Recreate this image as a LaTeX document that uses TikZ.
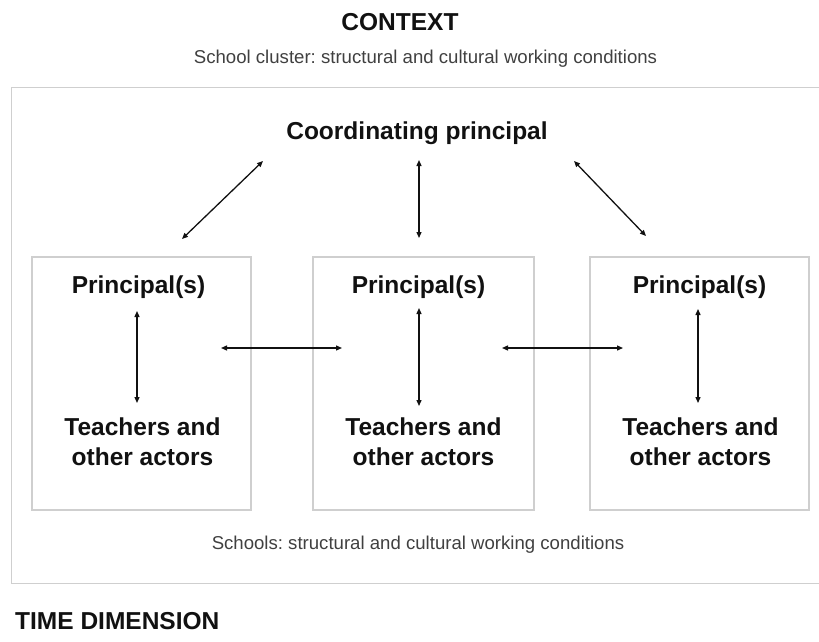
\documentclass[tikz,border=0pt]{standalone}
\usepackage{fontspec}
\setmainfont{Liberation Sans}
\usetikzlibrary{arrows.meta}
\definecolor{boxgray}{HTML}{CFCFCF}
\definecolor{ink}{HTML}{111111}
\definecolor{subgray}{HTML}{404040}
\frenchspacing
\begin{document}
\begin{tikzpicture}[x=1pt,y=-1pt,
  heading/.style={font=\fontsize{24.5}{29.5}\selectfont\bfseries, text=ink, inner sep=0pt, anchor=base},
  multiline/.style={font=\fontsize{24.5}{29.5}\selectfont\bfseries, text=ink, inner sep=0pt, align=center, anchor=center},
  subtext/.style={font=\fontsize{18.6}{22}\selectfont, text=subgray, inner sep=0pt, anchor=base},
  frame/.style={draw=boxgray, line width=1.2pt, inner sep=0pt},
  link/.style={draw=ink, line width=1.3pt, {Triangle[length=6pt,width=5pt]}-{Triangle[length=6pt,width=5pt]}}]
\useasboundingbox (0,0) rectangle (819,642);

% context
\node[heading] (context) at (400,31) {CONTEXT};
\node[subtext] (cluster) at (425.5,63.5) {School cluster: structural and cultural working conditions};
\node[frame, anchor=north west, minimum width=830pt, minimum height=496pt] (clusterbox) at (10.5,87) {};

\node[heading] (coord) at (417,139.5) {Coordinating principal};

% schools
\node[frame, minimum width=219pt, minimum height=253pt] (school1) at (141.5,383.5) {};
\node[frame, minimum width=221pt, minimum height=253pt] (school2) at (423.5,383.5) {};
\node[frame, minimum width=219pt, minimum height=253pt] (school3) at (699.5,383.5) {};

\node[heading] (p1) at (138.5,293) {Principal(s)};
\node[heading] (p2) at (418.5,293) {Principal(s)};
\node[heading] (p3) at (699.5,293) {Principal(s)};

\node[multiline] (t1) at (142.5,441.5) {Teachers and\\other actors};
\node[multiline] (t2) at (423.5,441.5) {Teachers and\\other actors};
\node[multiline] (t3) at (700.5,441.5) {Teachers and\\other actors};

\node[subtext] (schools) at (418,549.5) {Schools: structural and cultural working conditions};
\node[heading, anchor=base west] (time) at (15,629) {TIME DIMENSION};

% arrow end points
\coordinate (cl) at (263,161);  \coordinate (s1top) at (182,239);
\coordinate (cm) at (419,160);  \coordinate (s2top) at (419,238);
\coordinate (cr) at (574,161);  \coordinate (s3top) at (646,236);
\coordinate (p1b) at (137,311); \coordinate (t1t) at (137,403);
\coordinate (p2b) at (419,308); \coordinate (t2t) at (419,406);
\coordinate (p3b) at (698,309); \coordinate (t3t) at (698,403);
\coordinate (h1a) at (221,348); \coordinate (h1b) at (342,348);
\coordinate (h2a) at (502,348); \coordinate (h2b) at (623,348);

\draw[link] (cl) -- (s1top);
\draw[link] (cm) -- (s2top);
\draw[link] (cr) -- (s3top);
\draw[link] (p1b) -- (t1t);
\draw[link] (p2b) -- (t2t);
\draw[link] (p3b) -- (t3t);
\draw[link] (h1a) -- (h1b);
\draw[link] (h2a) -- (h2b);
\end{tikzpicture}
\end{document}
